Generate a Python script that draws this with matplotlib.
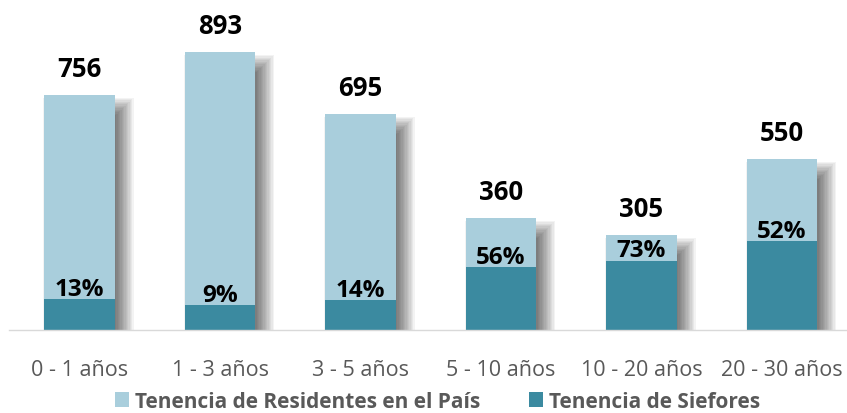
import numpy as np
import matplotlib.pyplot as plt
from matplotlib.patches import Rectangle

categories = ["0 - 1 años", "1 - 3 años", "3 - 5 años", "5 - 10 años", "10 - 20 años", "20 - 30 años"]
totals = [756, 893, 695, 360, 305, 550]
siefores_pct = [13, 9, 14, 56, 73, 52]

light = "#A9CEDC"
dark = "#3B8AA0"
grey = "#595959"

plt.rcParams['font.family'] = ['Open Sans', 'DejaVu Sans']

totals = np.array(totals)
pct = np.array(siefores_pct)
siefores = totals * pct / 100.0
residentes = totals - siefores
x = np.arange(len(categories))
w = 0.5

fig = plt.figure(figsize=(8.47, 4.14), dpi=100)
ax = fig.add_axes([0.011, 0.2005, 0.995, 0.7995])
ax.set_xlim(-0.5, 5.5)
ax.set_ylim(0, 1063)

# soft drop shadow: stacked translucent rectangles of growing size
p0 = ax.transData.transform((0, 0))
p1 = ax.transData.transform((1, 1))
sx, sy = p1[0] - p0[0], p1[1] - p0[1]   # pixels per data unit
dx, dy, r, n = 9, 13, 10, 16
a = 1 - (1 - 0.55) ** (1 / n)
for xi, t in zip(x, totals):
    for e in np.linspace(-r, r, n):
        left = xi - w / 2 + (dx - e) / sx
        right = xi + w / 2 + (dx + e) / sx
        top = t + (e - dy) / sy
        ax.add_patch(Rectangle((left, 0), right - left, top, facecolor='black',
                               edgecolor='none', alpha=a, zorder=1))

ax.bar(x, siefores, w, color=dark, zorder=2, label="Tenencia de Siefores")
ax.bar(x, residentes, w, bottom=siefores, color=light, zorder=2,
       label="Tenencia de Residentes en el País")

for xi, t, s, p in zip(x, totals, siefores, pct):
    ax.annotate(f"{t}", (xi, t), xytext=(0, 13.5), textcoords='offset points',
                ha='center', va='baseline', fontsize=18.5, fontweight='bold', color='black')
    ax.annotate(f"{p}%", (xi, s), xytext=(0, 3), textcoords='offset points',
                ha='center', va='baseline', fontsize=17.5, fontweight='bold', color='black', zorder=3)

ax.set_xticks(x)
ax.set_xticklabels(categories, fontsize=15.5, color=grey)
ax.tick_params(axis='x', length=0, pad=21)
ax.set_yticks([])
for s in ['top', 'right', 'left']:
    ax.spines[s].set_visible(False)
ax.spines['bottom'].set_color('#D9D9D9')
ax.spines['bottom'].set_linewidth(1)
ax.spines['bottom'].set_zorder(3)

handles, labels = ax.get_legend_handles_labels()
fig.legend(handles[::-1], labels[::-1], loc='center', bbox_to_anchor=(0.5166, 0.028),
           ncol=2, frameon=False, prop={'size': 15, 'weight': 'bold'},
           labelcolor=grey, handlelength=0.7, handleheight=0.7, handletextpad=0.3,
           columnspacing=2.3, borderaxespad=0, borderpad=0)

fig.savefig("out.png", dpi=100)
